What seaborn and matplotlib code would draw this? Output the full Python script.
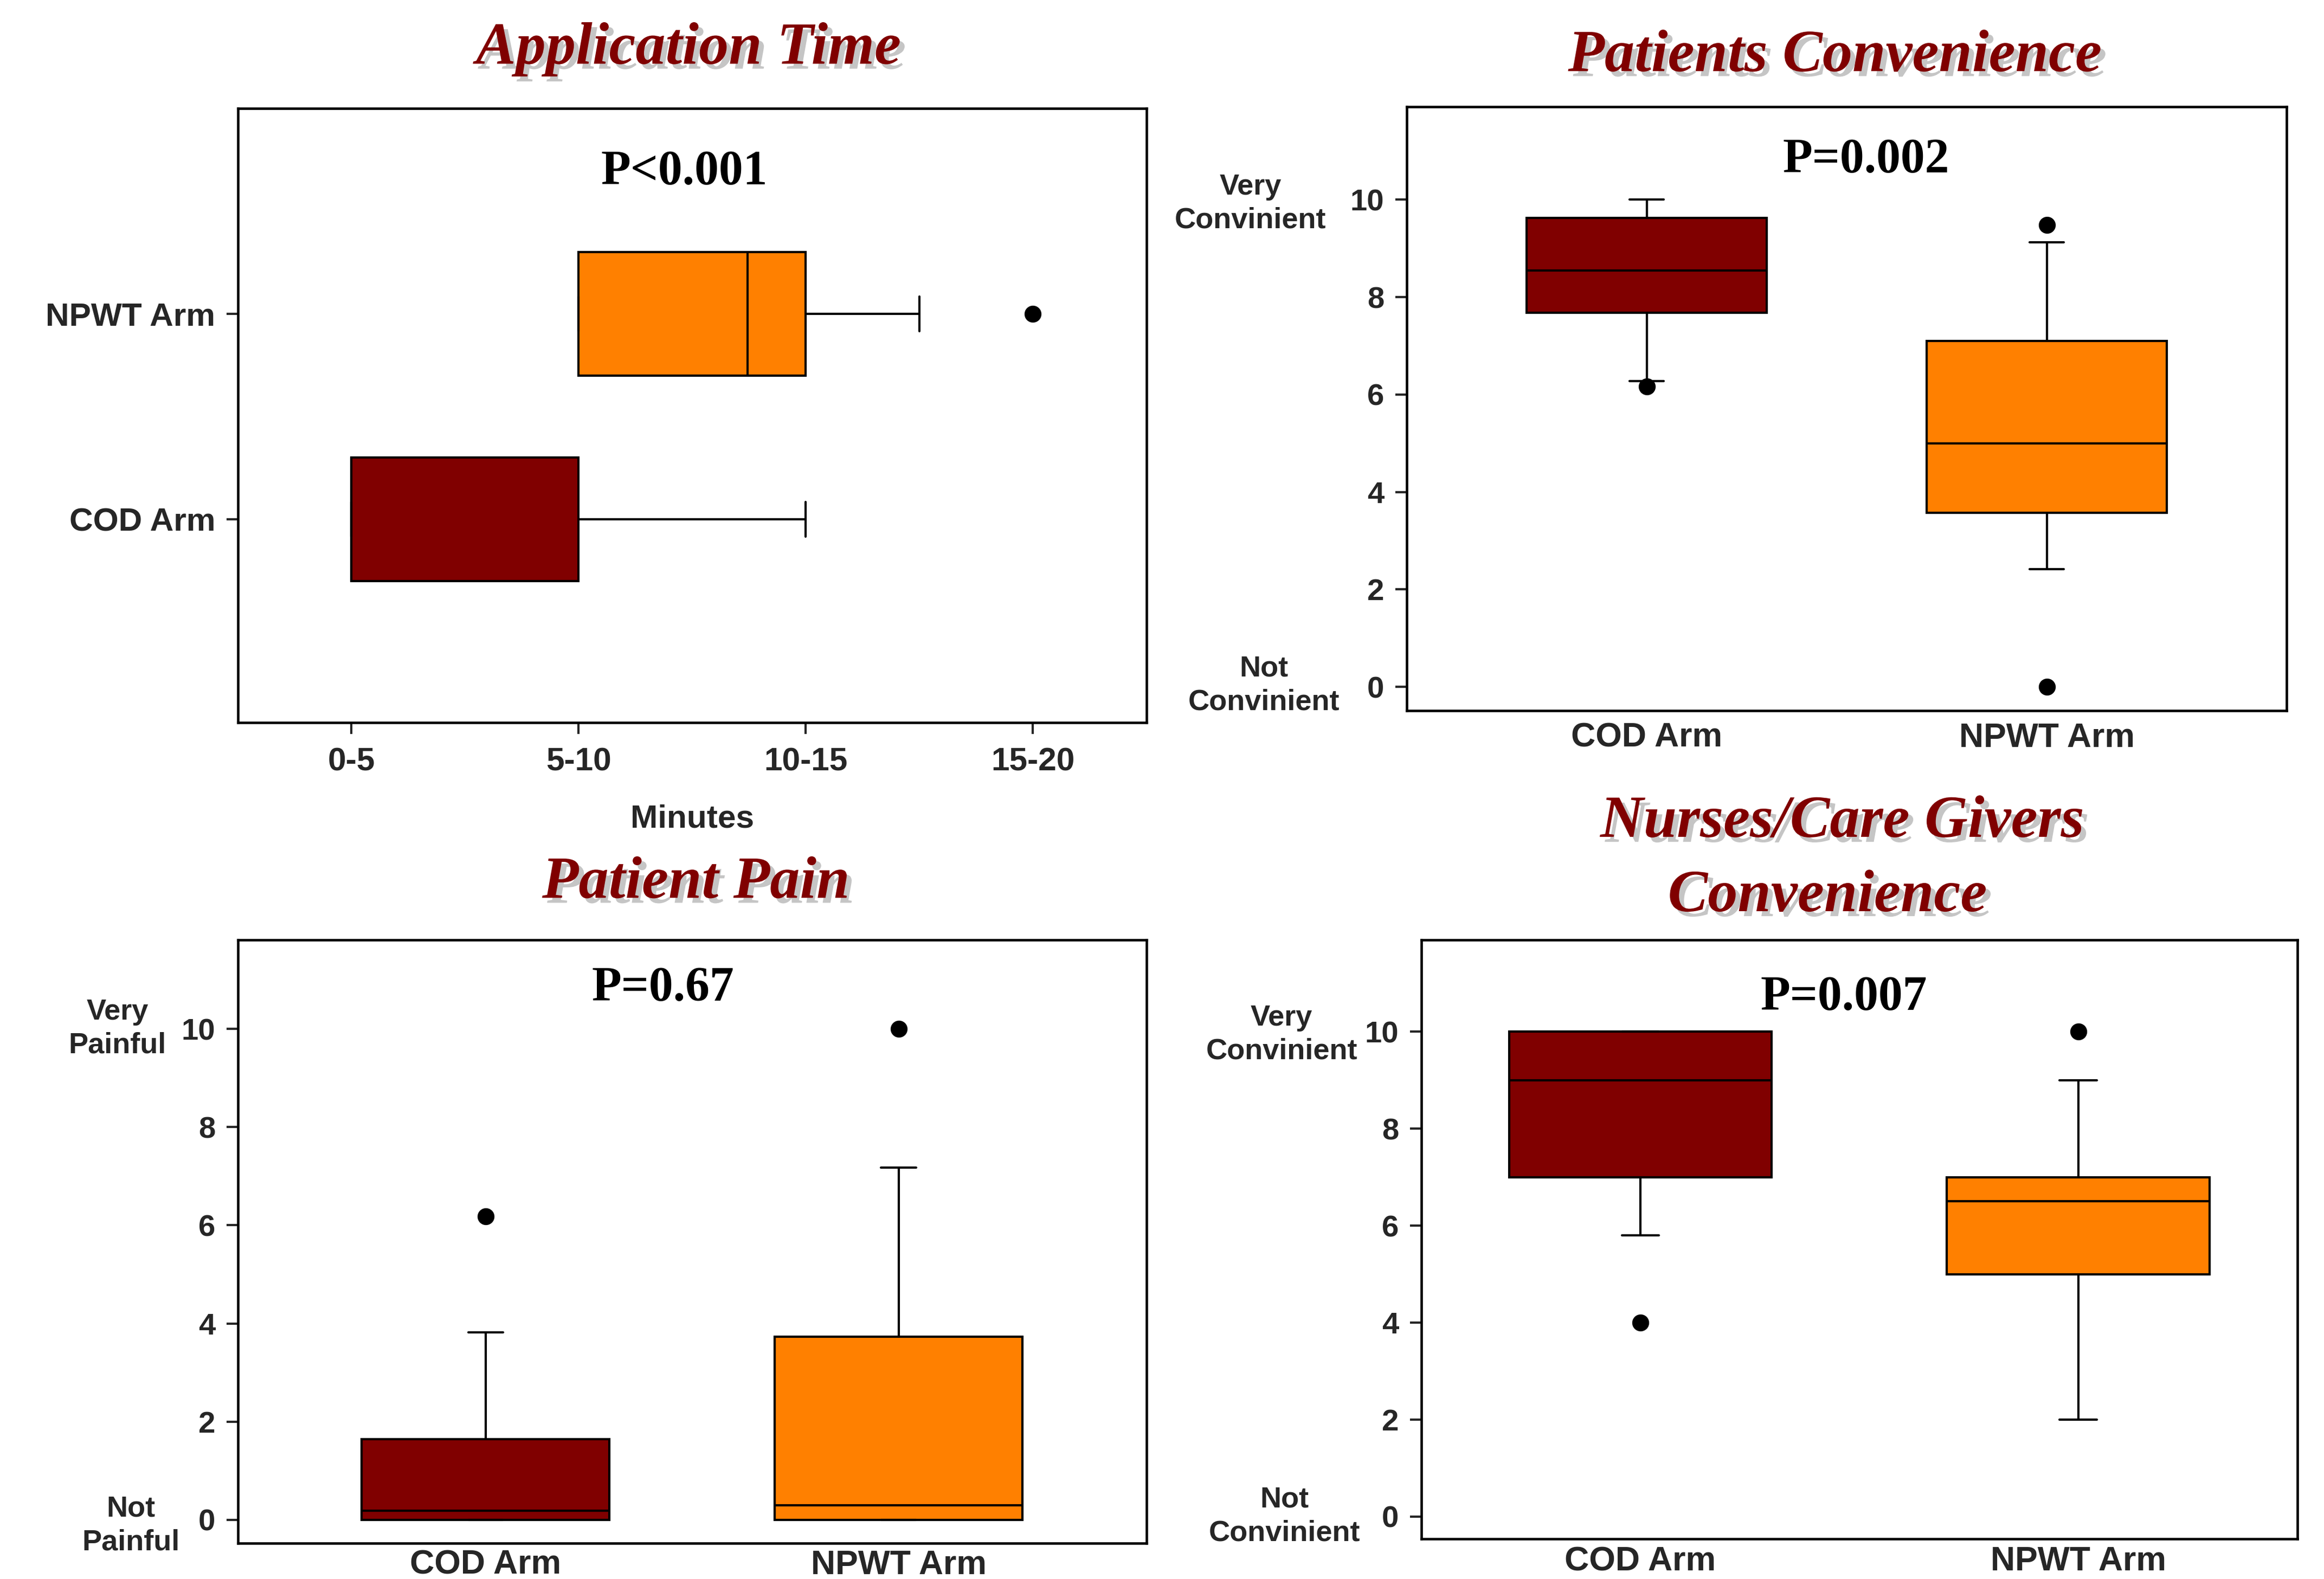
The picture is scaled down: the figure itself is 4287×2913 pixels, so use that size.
import numpy as np
import pandas as pd
import matplotlib
matplotlib.use("Agg")
import matplotlib.pyplot as plt
import matplotlib.patheffects as pe
import seaborn as sns

# ---------------- data ----------------
ARMS = ["COD Arm", "NPWT Arm"]
ARM_COLORS = {"COD Arm": "#800000", "NPWT Arm": "#FF8000"}

# Application time, coded on the interval index (0="0-5", 1="5-10", 2="10-15", 3="15-20")
time_labels = ["0-5", "5-10", "10-15", "15-20"]
time_cod = [0, 0, 0, 0, 0, 0, 0.5, 1, 1, 2, 2]
time_npwt = [1, 1, 1, 1, 1.4, 1.745, 1.9, 2, 2, 2.5, 3]

# Patients convenience (0 = not convinient, 10 = very convinient)
pc_cod = [6.16, 6.28, 7.68, 7.68, 8.0, 8.54, 9.0, 9.63, 9.63, 10.0, 10.0]
pc_npwt = [0.0, 2.41, 3.57, 3.57, 4.2, 5.0, 6.0, 7.10, 7.10, 9.12, 9.48]

# Patient pain (0 = not painful, 10 = very painful)
pain_cod = [0, 0, 0, 0, 0.1, 0.18, 1.0, 1.64, 1.64, 3.82, 6.18]
pain_npwt = [0, 0, 0, 0, 0.1, 0.30, 2.0, 3.73, 3.73, 7.18, 10.0]

# Nurses / care givers convenience
nc_cod = [4.0, 5.8, 7.0, 7.0, 8.0, 9.0, 9.5, 10.0, 10.0, 10.0, 10.0]
nc_npwt = [2.0, 2.0, 5.0, 5.0, 6.0, 6.5, 6.8, 7.0, 7.0, 9.0, 10.0]

y_ticks = [0, 2, 4, 6, 8, 10]

titles = ["Application Time", "Patients Convenience", "Patient Pain",
          "Nurses/Care Givers", "Convenience"]
p_values = ["P<0.001", "P=0.002", "P=0.67", "P=0.007"]

# ---------------- style ----------------
sns.set_style("ticks")
plt.rcParams["font.family"] = ["Liberation Sans", "DejaVu Sans"]
plt.rcParams["font.weight"] = "bold"
plt.rcParams["axes.linewidth"] = 1.1
plt.rcParams["axes.edgecolor"] = "black"

W, H = 4287, 2913
fig = plt.figure(figsize=(W / 300, H / 300), dpi=300)
DW, DH = 1563.0, 1062.0  # reference layout units


def add_axes(l, r, t, b):
    return fig.add_axes([l / DW, 1 - b / DH, (r - l) / DW, (b - t) / DH])


def frame(arms, values_list):
    rows = []
    for arm, vals in zip(arms, values_list):
        for v in vals:
            rows.append({"arm": arm, "value": v})
    return pd.DataFrame(rows)


box_kws = dict(
    hue="arm", palette=ARM_COLORS, width=0.6, whis=(10, 90),
    saturation=1, linewidth=1.0, linecolor="black", fliersize=6.5,
    legend=False,
    flierprops=dict(marker="o", markerfacecolor="black", markeredgecolor="black"),
    medianprops=dict(color="black", linewidth=1.0),
)

title_font = dict(family=["Liberation Serif", "DejaVu Serif"], weight="bold",
                  style="italic", color="#800000", fontsize=26.5)
shadow = [pe.withSimplePatchShadow(offset=(2.2, -2.2), shadow_rgbFace=(0.5, 0.5, 0.5), alpha=0.45)]
p_font = dict(family=["Liberation Serif", "DejaVu Serif"], weight="bold", color="black", fontsize=21.5)
side_font = dict(fontsize=13, weight="bold", ha="center", va="center",
                 multialignment="center", linespacing=1.3)


def style_axes(ax):
    for s in ax.spines.values():
        s.set_visible(True)
        s.set_color("black")
        s.set_linewidth(1.1)
    ax.set_xlabel("")
    ax.set_ylabel("")


# ---------- Panel 1: Application Time (horizontal) ----------
ax1 = add_axes(160, 771, 73, 486)
df1 = frame(["NPWT Arm", "COD Arm"], [time_npwt, time_cod])
sns.boxplot(data=df1, x="value", y="arm", orient="y", ax=ax1, capwidths=0.17,
            order=["NPWT Arm", "COD Arm"], **box_kws)
style_axes(ax1)
ax1.set_xlim(-0.5, 3.5)
ax1.set_ylim(1.99, -1.0)
ax1.set_xticks(range(len(time_labels)))
ax1.set_xticklabels(time_labels)
ax1.tick_params(axis="both", labelsize=14.5, length=5, width=1.0, pad=5)
ax1.tick_params(axis="x", pad=6)
ax1.set_xlabel("Minutes", fontsize=14.5, fontweight="bold", labelpad=12)
ax1.text((460 - 160) / (771 - 160), 1 - (116 - 73) / (486 - 73), p_values[0],
         transform=ax1.transAxes, ha="center", va="center", **p_font)


def vertical_panel(ax, cod, npwt, xlim, ylim, pval, pxy, xpad):
    df = frame(ARMS, [cod, npwt])
    sns.boxplot(data=df, x="arm", y="value", orient="x", ax=ax, capwidths=0.085,
                order=ARMS, **box_kws)
    style_axes(ax)
    ax.set_xlim(*xlim)
    ax.set_ylim(*ylim)
    ax.set_yticks(y_ticks)
    ax.tick_params(axis="y", labelsize=13.5, length=5, width=1.0, pad=5)
    ax.tick_params(axis="x", labelsize=15, length=0, pad=xpad)
    ax.text(pxy[0], pxy[1], pval, transform=ax.transAxes, ha="center", va="center", **p_font)


# ---------- Panel 2: Patients Convenience ----------
ax2 = add_axes(946, 1538, 72, 478)
vertical_panel(ax2, pc_cod, pc_npwt, (-0.6, 1.6), (-0.49, 11.9), p_values[1],
               ((1255 - 946) / (1538 - 946), 1 - (108 - 72) / (478 - 72)), 5)

# ---------- Panel 3: Patient Pain ----------
ax3 = add_axes(160, 771, 632, 1038)
vertical_panel(ax3, pain_cod, pain_npwt, (-0.6, 1.6), (-0.48, 11.82), p_values[2],
               ((446 - 160) / (771 - 160), 1 - (665 - 632) / (1038 - 632)), 2.5)

# ---------- Panel 4: Nurses/Care Givers Convenience ----------
ax4 = add_axes(956, 1545, 632, 1035)
vertical_panel(ax4, nc_cod, nc_npwt, (-0.5, 1.5), (-0.46, 11.9), p_values[3],
               ((1240 - 956) / (1545 - 956), 1 - (671 - 632) / (1035 - 632)), 3)

# ---------- titles ----------
def ftxt(x, y, s, **k):
    return fig.text(x / DW, 1 - y / DH, s, **k)

for (x, y), t in zip([(463, 33), (1234, 38), (468, 594), (1239, 553), (1229, 603)], titles):
    ftxt(x, y, t, ha="center", va="center", path_effects=shadow, **title_font)

# ---------- side labels ----------
ftxt(841, 137, "Very\nConvinient", **side_font)
ftxt(850, 461, "Not\nConvinient", **side_font)
ftxt(79, 692, "Very\nPainful", **side_font)
ftxt(88, 1026, "Not\nPainful", **side_font)
ftxt(862, 696, "Very\nConvinient", **side_font)
ftxt(864, 1020, "Not\nConvinient", **side_font)

fig.savefig("out.png", dpi=300, facecolor="white")
